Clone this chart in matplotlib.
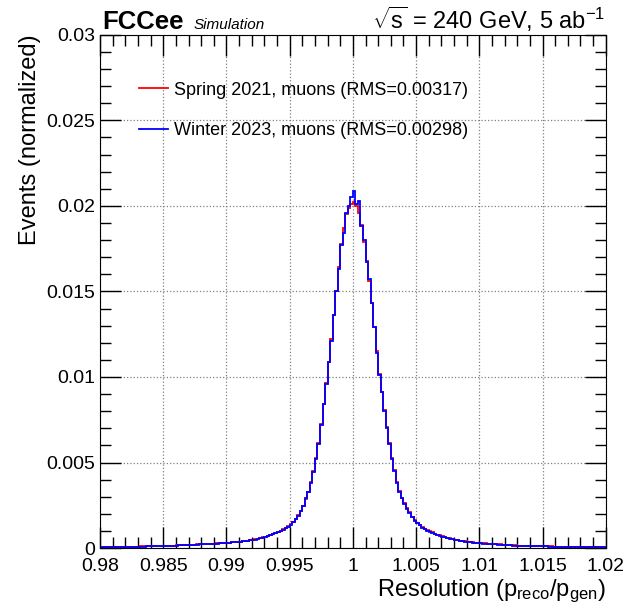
import numpy as np
import matplotlib
matplotlib.use('Agg')
import matplotlib.pyplot as plt
from matplotlib.ticker import MultipleLocator, FuncFormatter

plt.rcParams['font.family'] = ['Liberation Sans', 'DejaVu Sans']
plt.rcParams['mathtext.fontset'] = 'custom'
plt.rcParams['mathtext.rm'] = 'Liberation Sans'
plt.rcParams['mathtext.it'] = 'Liberation Sans:italic'

# binning of the resolution histogram
x_min, x_max, bin_width = 0.98, 1.02, 0.0002
edges = np.round(np.arange(x_min, x_max + bin_width / 2, bin_width), 6)

# bin contents, in units of 1e-3
spring_2021 = [
    0.05, 0.05, 0.06, 0.05, 0.06, 0.06, 0.06, 0.07, 0.07, 0.07,
    0.08, 0.08, 0.08, 0.09, 0.09, 0.09, 0.10, 0.10, 0.11, 0.10,
    0.11, 0.11, 0.12, 0.12, 0.13, 0.13, 0.14, 0.14, 0.15, 0.15,
    0.16, 0.16, 0.17, 0.18, 0.18, 0.19, 0.19, 0.20, 0.21, 0.22,
    0.23, 0.23, 0.24, 0.25, 0.26, 0.26, 0.27, 0.28, 0.29, 0.30,
    0.31, 0.32, 0.34, 0.35, 0.37, 0.38, 0.40, 0.42, 0.44, 0.46,
    0.48, 0.51, 0.54, 0.58, 0.62, 0.66, 0.71, 0.77, 0.83, 0.89,
    0.95, 1.02, 1.10, 1.18, 1.27, 1.38, 1.52, 1.70, 1.92, 2.17,
    2.48, 2.84, 3.30, 3.86, 4.50, 5.25, 6.15, 7.25, 8.45, 9.65,
    10.9, 12.2, 13.6, 15.0, 16.4, 17.8, 18.7, 19.5, 19.9, 20.1,
    20.2, 20.0, 19.6, 18.9, 17.9, 16.8, 15.6, 14.3, 12.9, 11.5,
    10.2, 9.10, 8.05, 7.05, 6.15, 5.25, 4.55, 3.85, 3.35, 2.95,
    2.62, 2.33, 2.08, 1.84, 1.63, 1.47, 1.34, 1.22, 1.12, 1.04,
    0.97, 0.91, 0.85, 0.79, 0.74, 0.69, 0.64, 0.60, 0.56, 0.53,
    0.50, 0.47, 0.44, 0.42, 0.40, 0.38, 0.36, 0.34, 0.32, 0.30,
    0.29, 0.28, 0.27, 0.26, 0.25, 0.24, 0.23, 0.22, 0.21, 0.20,
    0.19, 0.18, 0.17, 0.17, 0.16, 0.15, 0.15, 0.14, 0.14, 0.13,
    0.13, 0.12, 0.12, 0.12, 0.11, 0.11, 0.10, 0.10, 0.10, 0.09,
    0.09, 0.09, 0.08, 0.08, 0.08, 0.07, 0.07, 0.07, 0.06, 0.06,
    0.06, 0.06, 0.05, 0.05, 0.05, 0.05, 0.05, 0.04, 0.04, 0.04,
]
winter_2023 = [
    0.04, 0.05, 0.05, 0.05, 0.05, 0.06, 0.05, 0.06, 0.06, 0.07,
    0.07, 0.07, 0.08, 0.08, 0.08, 0.09, 0.09, 0.09, 0.10, 0.10,
    0.10, 0.11, 0.11, 0.12, 0.12, 0.13, 0.13, 0.13, 0.14, 0.15,
    0.15, 0.16, 0.16, 0.17, 0.18, 0.18, 0.19, 0.20, 0.20, 0.21,
    0.22, 0.22, 0.23, 0.24, 0.25, 0.26, 0.26, 0.27, 0.28, 0.29,
    0.30, 0.31, 0.33, 0.34, 0.36, 0.37, 0.39, 0.41, 0.43, 0.45,
    0.47, 0.50, 0.53, 0.56, 0.61, 0.65, 0.70, 0.76, 0.82, 0.88,
    0.94, 1.00, 1.08, 1.16, 1.25, 1.36, 1.50, 1.68, 1.90, 2.15,
    2.45, 2.90, 3.25, 3.80, 4.45, 5.20, 6.10, 7.20, 8.40, 9.60,
    10.9, 12.1, 13.6, 15.0, 16.3, 17.7, 18.4, 19.6, 20.0, 20.5,
    20.9, 20.1, 20.3, 18.8, 18.0, 16.7, 15.7, 14.3, 12.9, 11.4,
    10.1, 9.10, 8.00, 7.00, 6.10, 5.20, 4.50, 3.80, 3.30, 2.90,
    2.60, 2.28, 2.04, 1.80, 1.60, 1.45, 1.32, 1.20, 1.10, 1.02,
    0.95, 0.89, 0.83, 0.77, 0.72, 0.67, 0.62, 0.58, 0.54, 0.51,
    0.48, 0.45, 0.42, 0.40, 0.38, 0.36, 0.34, 0.32, 0.30, 0.28,
    0.27, 0.26, 0.25, 0.24, 0.23, 0.22, 0.21, 0.20, 0.19, 0.18,
    0.17, 0.17, 0.16, 0.15, 0.15, 0.14, 0.14, 0.13, 0.13, 0.12,
    0.12, 0.11, 0.11, 0.11, 0.10, 0.10, 0.10, 0.09, 0.09, 0.09,
    0.08, 0.08, 0.08, 0.07, 0.07, 0.07, 0.07, 0.06, 0.06, 0.06,
    0.06, 0.05, 0.05, 0.05, 0.05, 0.05, 0.04, 0.04, 0.04, 0.04,
]
labels = ['Spring 2021, muons (RMS=0.00317)', 'Winter 2023, muons (RMS=0.00298)']

fig = plt.figure(figsize=(6.29, 6.11), dpi=100)
ax = fig.add_axes([0.159, 0.103, 0.804, 0.840])

ax.stairs(np.array(spring_2021) * 1e-3, edges, color='red', linewidth=1.3, label=labels[0])
ax.stairs(np.array(winter_2023) * 1e-3, edges, color='blue', linewidth=1.3, label=labels[1])

ax.set_xlim(x_min, x_max)
ax.set_ylim(0, 0.03)

ax.xaxis.set_major_locator(MultipleLocator(0.005))
ax.xaxis.set_minor_locator(MultipleLocator(0.001))
ax.yaxis.set_major_locator(MultipleLocator(0.005))
ax.yaxis.set_minor_locator(MultipleLocator(0.001))
fmt = FuncFormatter(lambda v, p: '%g' % round(v, 4))
ax.xaxis.set_major_formatter(fmt)
ax.yaxis.set_major_formatter(fmt)

ax.tick_params(which='both', direction='in', top=True, right=True, labelsize=14, width=1)
ax.tick_params(which='major', length=15)
ax.tick_params(which='minor', length=8)
ax.tick_params(axis='x', pad=7)
ax.grid(True, which='major', linestyle=':', color='gray', linewidth=0.9)
ax.set_axisbelow(True)

ax.set_xlabel(r'Resolution (p$_{\mathrm{reco}}$/p$_{\mathrm{gen}}$)', fontsize=17, loc='right',
              labelpad=2)
ax.set_ylabel('Events (normalized)', fontsize=17, loc='top')

ax.legend(loc='upper left', bbox_to_anchor=(0.078, 0.909), frameon=False, fontsize=13,
          handlelength=1.6, handletextpad=0.3, labelspacing=1.3, borderpad=0, borderaxespad=0)

fig.text(0.162, 0.952, 'FCCee', fontsize=18.5, fontweight='bold', ha='left', va='baseline')
fig.text(0.307, 0.952, 'Simulation', fontsize=11, style='italic', ha='left', va='baseline')
fig.text(0.963, 0.952, r'$\sqrt{\mathrm{s}}$ = 240 GeV, 5 ab$^{-1}$', fontsize=17,
         ha='right', va='baseline')

fig.savefig('out.png', dpi=100)
